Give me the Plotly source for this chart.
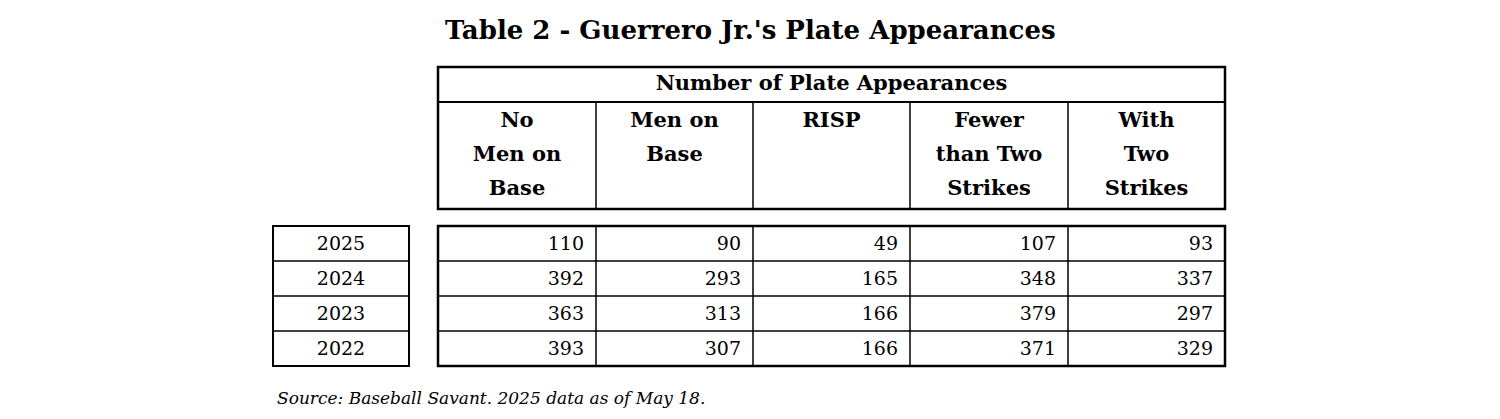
import plotly.graph_objects as go

title = "Table 2 - Guerrero Jr.'s Plate Appearances"
group_header = "Number of Plate Appearances"
col_headers = [["No", "Men on", "Base"], ["Men on", "Base"], ["RISP"], ["Fewer", "than Two", "Strikes"], ["With", "Two", "Strikes"]]
years = ["2025", "2024", "2023", "2022"]
no_men = [110, 392, 363, 393]
men_on = [90, 293, 313, 307]
risp = [49, 165, 166, 166]
fewer_two = [107, 348, 379, 371]
with_two = [93, 337, 297, 329]
source = "Source: Baseball Savant. 2025 data as of May 18."

series = [no_men, men_on, risp, fewer_two, with_two]

FONT = "DejaVu Serif"
col_x = [438, 596, 753, 910, 1068, 1225]
row_y = [226, 261, 296, 331, 366]
yr_x = [273, 409]
line_y = [122, 156, 190]

fig = go.Figure()
shapes = []
def rect(x0, y0, x1, y1, w=2.5):
    shapes.append(dict(type="rect", x0=x0, x1=x1, y0=y0, y1=y1, line=dict(color="black", width=w)))
def line(x0, y0, x1, y1, w=1.5):
    shapes.append(dict(type="line", x0=x0, x1=x1, y0=y0, y1=y1, line=dict(color="black", width=w)))

rect(col_x[0], 67, col_x[-1], 209)
line(col_x[0], 102, col_x[-1], 102, 2)
for x in col_x[1:-1]:
    line(x, 102, x, 209)
rect(col_x[0], row_y[0], col_x[-1], row_y[-1])
for x in col_x[1:-1]:
    line(x, row_y[0], x, row_y[-1])
for y in row_y[1:-1]:
    line(col_x[0], y, col_x[-1], y)
rect(yr_x[0], row_y[0], yr_x[1], row_y[-1], 2)
for y in row_y[1:-1]:
    line(yr_x[0], y, yr_x[1], y)

fig.add_trace(go.Scatter(x=[(col_x[0] + col_x[-1]) / 2], y=[85], mode="text", text=[f"<b>{group_header}</b>"],
                         textfont=dict(family=FONT, size=21, color="black"), hoverinfo="skip"))
hx, hy, ht = [], [], []
for i, lines in enumerate(col_headers):
    for j, t in enumerate(lines):
        hx.append((col_x[i] + col_x[i + 1]) / 2)
        hy.append(line_y[j])
        ht.append(f"<b>{t}</b>")
fig.add_trace(go.Scatter(x=hx, y=hy, mode="text", text=ht,
                         textfont=dict(family=FONT, size=21, color="black"), hoverinfo="skip"))
fig.add_trace(go.Scatter(x=[(yr_x[0] + yr_x[1]) / 2] * 4, y=[(row_y[i] + row_y[i + 1]) / 2 + 2 for i in range(4)],
                         mode="text", text=years, textfont=dict(family=FONT, size=19, color="black"), hoverinfo="skip"))
for c, vals in enumerate(series):
    fig.add_trace(go.Scatter(x=[col_x[c + 1] - 12] * 4, y=[(row_y[i] + row_y[i + 1]) / 2 + 2 for i in range(4)],
                             mode="text", text=[str(v) for v in vals], textposition="middle left",
                             textfont=dict(family=FONT, size=19, color="black"), hoverinfo="skip"))

fig.add_annotation(x=750, y=30, text=f"<b>{title}</b>", showarrow=False, xref="x", yref="y",
                   font=dict(family=FONT, size=26, color="black"))
fig.add_annotation(x=275, y=398, text=f"<i>{source}</i>", showarrow=False, xref="x", yref="y", xanchor="left",
                   font=dict(family=FONT, size=17, color="black"))

fig.update_layout(width=1500, height=419, margin=dict(l=0, r=0, t=0, b=0), showlegend=False,
                  plot_bgcolor="white", paper_bgcolor="white", shapes=shapes,
                  xaxis=dict(range=[8, 1508], visible=False, fixedrange=True),
                  yaxis=dict(range=[427, 8], visible=False, fixedrange=True))
fig.write_html("out.html")
